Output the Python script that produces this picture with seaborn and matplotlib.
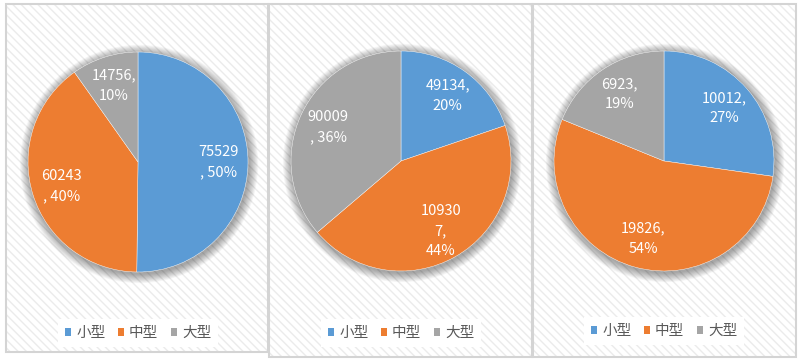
import numpy as np
import matplotlib
matplotlib.use("Agg")
import matplotlib.pyplot as plt
from matplotlib.patches import Rectangle, Circle, Patch
import seaborn as sns

categories = ['小型', '中型', '大型']
values_1 = [75529, 60243, 14756]
values_2 = [49134, 109307, 90009]
values_3 = [10012, 19826, 6923]
labels_1 = ['75529\n, 50%', '60243\n, 40%', '14756,\n10%']
labels_2 = ['49134,\n20%', '10930\n7,\n44%', '90009\n, 36%']
labels_3 = ['10012,\n27%', '19826,\n54%', '6923,\n19%']

sns.set_style("white")
plt.rcParams['font.family'] = ['Noto Sans CJK SC', 'DejaVu Sans']
plt.rcParams['hatch.linewidth'] = 1.0

palette = sns.color_palette(['#5B9BD5', '#ED7D31', '#A5A5A5'])

W, H = 800, 361
fig = plt.figure(figsize=(W / 100, H / 100), dpi=100)
fig.patch.set_facecolor('white')

# panels in pixel coords (x0, y0_top, x1, y1_bottom)
panels = [(6, 4, 268, 352), (269, 4, 532, 357), (533, 4, 796, 357)]
for (x0, y0, x1, y1) in panels:
    rect = Rectangle((x0 / W, 1 - y1 / H), (x1 - x0) / W, (y1 - y0) / H,
                     transform=fig.transFigure, facecolor='white',
                     edgecolor='#ebebeb', linewidth=0, hatch='\\\\\\\\', zorder=-3)
    fig.patches.append(rect)
    border = Rectangle((x0 / W, 1 - y1 / H), (x1 - x0) / W, (y1 - y0) / H,
                       transform=fig.transFigure, facecolor='none',
                       edgecolor='#d4d4d4', linewidth=1.5, zorder=-2)
    fig.patches.append(border)

centers = [(138, 162), (401, 161), (664, 161)]
radius_px = 110
legend_y = [333, 333, 331]
datasets = [(values_1, labels_1), (values_2, labels_2), (values_3, labels_3)]

for (cx, cy), (vals, labs), ly in zip(centers, datasets, legend_y):
    ax = fig.add_axes([(cx - radius_px) / W, (H - cy - radius_px) / H,
                       2 * radius_px / W, 2 * radius_px / H])
    ax.set_facecolor('none')
    # soft shadow
    for i in range(14):
        r = 1.0 + 0.006 * (i + 1)
        ax.add_patch(Circle((0.01, -0.018), r, facecolor='black', alpha=0.028,
                            edgecolor='none', clip_on=False, zorder=0))
    wedges, _ = ax.pie(vals, colors=palette, startangle=90, counterclock=False,
                       radius=1.0, wedgeprops=dict(edgecolor='white', linewidth=0.3))
    for w in wedges:
        w.set_zorder(2)
    for w, lab in zip(wedges, labs):
        mid = np.deg2rad((w.theta1 + w.theta2) / 2)
        ax.text(0.73 * np.cos(mid), 0.73 * np.sin(mid), lab, ha='center', va='center',
                color='white', fontsize=10.5, linespacing=1.55, zorder=3)
    ax.set_xlim(-1, 1)
    ax.set_ylim(-1, 1)
    ax.set_aspect('equal')
    ax.axis('off')

    handles = [Patch(facecolor=c, edgecolor='none') for c in palette]
    leg = fig.legend(handles, categories, loc='center', bbox_to_anchor=(cx / W, 1 - ly / H),
                     ncol=3, frameon=True, fontsize=10.5, handlelength=0.42, handleheight=0.42,
                     handletextpad=0.35, columnspacing=0.85, borderpad=0.5, fancybox=False)
    leg.get_frame().set_facecolor('white')
    leg.get_frame().set_edgecolor('none')
    leg.get_frame().set_alpha(1)
    for t in leg.get_texts():
        t.set_color('#595959')

fig.savefig('out.png', dpi=100, facecolor='white')
